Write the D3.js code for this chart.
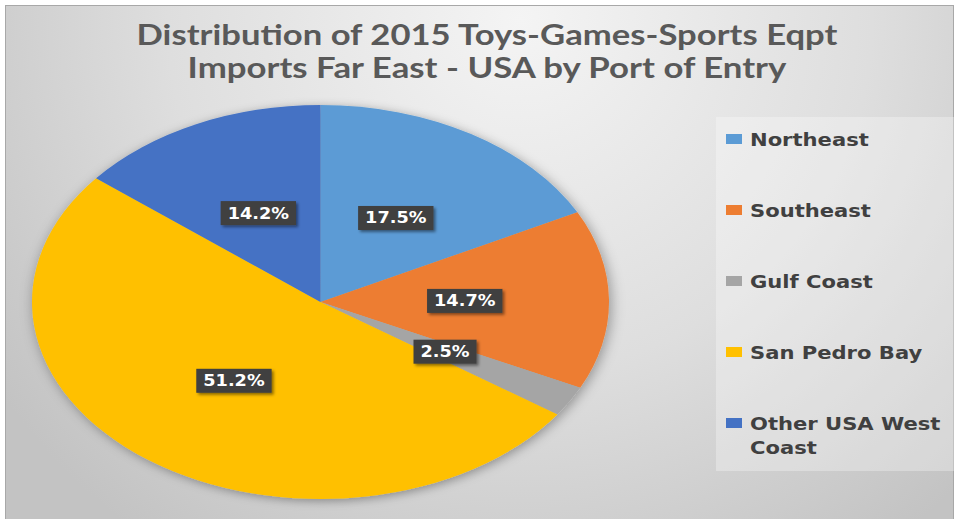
<!DOCTYPE html>
<html>
<head>
<meta charset="utf-8">
<script src="https://cdn.jsdelivr.net/npm/d3@7"></script>
<style>
  html, body { margin: 0; padding: 0; background: #ffffff; }
  svg { display: block; }
</style>
</head>
<body>
<svg id="chart" width="955" height="519"></svg>
<script>
// Chart data
const titleLines = ["Distribution of 2015 Toys-Games-Sports Eqpt", "Imports Far East - USA by Port of Entry"];
const ports = ["Northeast", "Southeast", "Gulf Coast", "San Pedro Bay", "Other USA West Coast"];
const shares = [17.5, 14.7, 2.5, 51.2, 14.2];
const portColors = ["#5B9BD5", "#ED7D31", "#A5A5A5", "#FFC000", "#4472C4"];

const W = 955, H = 519;
const svg = d3.select("#chart");
const defs = svg.append("defs");

// Background gradient of the chart area
const bg = defs.append("radialGradient").attr("id", "bgGrad")
  .attr("gradientUnits", "userSpaceOnUse")
  .attr("cx", 520).attr("cy", 20).attr("r", 640);
bg.append("stop").attr("offset", 0).attr("stop-color", "#f4f4f4");
bg.append("stop").attr("offset", 0.55).attr("stop-color", "#dedede");
bg.append("stop").attr("offset", 1).attr("stop-color", "#c3c3c3");

const pieShadow = defs.append("filter").attr("id", "pieShadow")
  .attr("x", "-20%").attr("y", "-20%").attr("width", "140%").attr("height", "140%");
pieShadow.append("feDropShadow").attr("dx", 2).attr("dy", 3)
  .attr("stdDeviation", 7).attr("flood-color", "#000").attr("flood-opacity", 0.35);

const boxShadow = defs.append("filter").attr("id", "boxShadow")
  .attr("x", "-30%").attr("y", "-40%").attr("width", "160%").attr("height", "180%");
boxShadow.append("feDropShadow").attr("dx", 2).attr("dy", 2)
  .attr("stdDeviation", 1.5).attr("flood-color", "#000").attr("flood-opacity", 0.45);

// Frame
svg.append("rect").attr("x", 5.5).attr("y", 5.5).attr("width", 948).attr("height", 520)
  .attr("fill", "url(#bgGrad)").attr("stroke", "#a8a8a8").attr("stroke-width", 1);

// Title
const title = svg.append("g").attr("class", "title");
titleLines.forEach((line, i) => {
  title.append("text")
    .attr("x", 487).attr("y", 45 + i * 33)
    .attr("text-anchor", "middle")
    .attr("font-family", "Lato, 'Open Sans', sans-serif")
    .attr("font-weight", 700)
    .attr("font-size", 28)
    .attr("fill", "#595959")
    .text(line);
});
// stretch title lines horizontally to their target widths
const titleWidths = [701, 599];
title.selectAll("text").each(function(d, i) {
  const w = this.getComputedTextLength();
  const s = titleWidths[i] / w;
  const x = +this.getAttribute("x");
  d3.select(this).attr("transform", `translate(${x},0) scale(${s},1) translate(${-x},0)`);
});

// Pie: circle drawn through d3.arc, then stretched into an ellipse
const cx = 320.5, cy = 302, rx = 288.5, ry = 197;
const pie = d3.pie().sort(null).value(d => d)(shares);
const arc = d3.arc().innerRadius(0).outerRadius(rx);
const labelArc = d3.arc().innerRadius(rx * 0.5).outerRadius(rx * 0.5);
const sy = ry / rx;

const pieG = svg.append("g")
  .attr("transform", `translate(${cx},${cy}) scale(1,${sy})`)
  .attr("filter", "url(#pieShadow)");
pieG.selectAll("path").data(pie).join("path")
  .attr("d", arc)
  .attr("fill", (d, i) => portColors[i]);

// Data labels
const labels = svg.append("g").attr("class", "labels");
pie.forEach((d, i) => {
  const [lx, ly] = labelArc.centroid(d);
  const px = cx + lx, py = cy + ly * sy;
  const g = labels.append("g").attr("transform", `translate(${px},${py})`);
  const rect = g.append("rect").attr("fill", "#404040").attr("filter", "url(#boxShadow)");
  const t = g.append("text")
    .attr("text-anchor", "middle").attr("dy", "0.36em")
    .attr("font-family", "'DejaVu Sans', Verdana, sans-serif")
    .attr("font-weight", 700).attr("font-size", 15)
    .attr("fill", "#ffffff")
    .attr("transform", "scale(1.18,1)")
    .text(d3.format(".1f")(shares[i]) + "%");
  const tw = t.node().getComputedTextLength() * 1.18;
  rect.attr("x", -tw / 2 - 7).attr("y", -12).attr("width", tw + 14).attr("height", 24);
});

// Legend
const legendG = svg.append("g").attr("class", "legend");
legendG.append("rect").attr("x", 716).attr("y", 117).attr("width", 238).attr("height", 354)
  .attr("fill", "#ffffff").attr("fill-opacity", 0.3);

const legY = d3.scalePoint().domain(ports).range([139, 423]);
const textScale = 1.14, maxText = 200;
ports.forEach((p, i) => {
  const y = legY(p);
  legendG.append("rect").attr("x", 726).attr("y", y - 5).attr("width", 16).attr("height", 10)
    .attr("fill", portColors[i]);
  const t = legendG.append("text")
    .attr("font-family", "'DejaVu Sans', Verdana, sans-serif")
    .attr("font-weight", 700).attr("font-size", 18.5)
    .attr("fill", "#404040")
    .attr("transform", `translate(750,${y}) scale(${textScale},1)`);
  // wrap words to the legend width
  const words = p.split(" ");
  let line = [], lineNo = 0;
  let tspan = t.append("tspan").attr("x", 0).attr("dy", "0.36em");
  words.forEach(w => {
    line.push(w);
    tspan.text(line.join(" "));
    if (tspan.node().getComputedTextLength() * textScale > maxText && line.length > 1) {
      line.pop();
      tspan.text(line.join(" "));
      line = [w];
      lineNo++;
      tspan = t.append("tspan").attr("x", 0).attr("dy", 24).text(w);
    }
  });
});
</script>
</body>
</html>
